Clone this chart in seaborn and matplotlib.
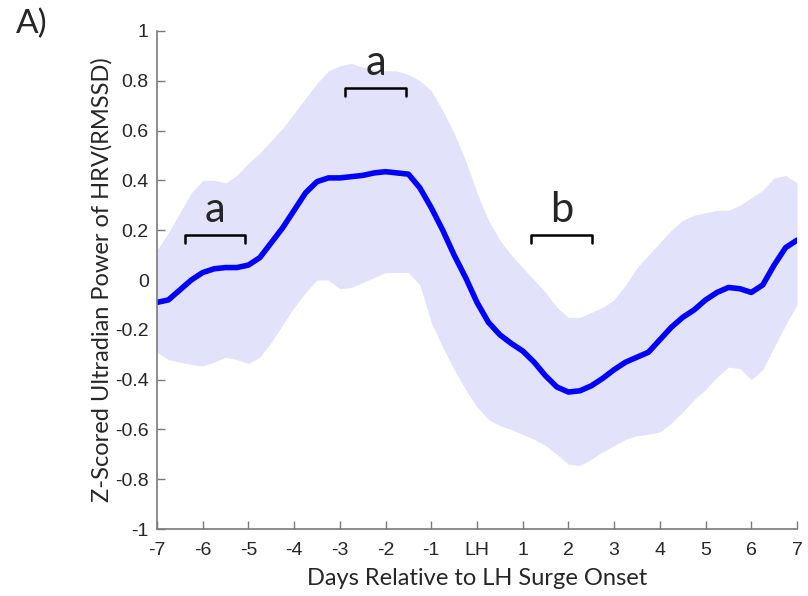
import numpy as np
import pandas as pd
import matplotlib
matplotlib.use("Agg")
import matplotlib.pyplot as plt
import seaborn as sns

# mean curve
mean_days = [-7, -6.75, -6.5, -6.25, -6, -5.75, -5.5, -5.25, -5, -4.75, -4.5, -4.25,
             -4, -3.75, -3.5, -3.25, -3, -2.75, -2.5, -2.25, -2, -1.75, -1.5, -1.25,
             -1, -0.75, -0.5, -0.25, 0, 0.25, 0.5, 0.75, 1, 1.25, 1.5, 1.75,
             2, 2.25, 2.5, 2.75, 3, 3.25, 3.5, 3.75, 4, 4.25, 4.5, 4.75,
             5, 5.25, 5.5, 5.75, 6, 6.25, 6.5, 6.75, 7]
mean_vals = [-0.09, -0.08, -0.04, 0.0, 0.03, 0.045, 0.05, 0.05, 0.06, 0.09, 0.15, 0.21,
             0.28, 0.35, 0.395, 0.41, 0.41, 0.415, 0.42, 0.43, 0.435, 0.43, 0.425, 0.37,
             0.29, 0.20, 0.10, 0.01, -0.09, -0.17, -0.22, -0.255, -0.285, -0.33, -0.385, -0.43,
             -0.45, -0.445, -0.425, -0.395, -0.36, -0.33, -0.31, -0.29, -0.24, -0.19, -0.15, -0.12,
             -0.08, -0.05, -0.03, -0.035, -0.05, -0.02, 0.06, 0.13, 0.16]

# shaded band
band_days = [-7, -6.75, -6.5, -6.25, -6, -5.75, -5.5, -5.25, -5, -4.75, -4.5, -4.25,
             -4, -3.75, -3.5, -3.25, -3, -2.75, -2.5, -2.25, -2, -1.75, -1.5, -1.25,
             -1, -0.75, -0.5, -0.25, 0, 0.25, 0.5, 0.75, 1, 1.25, 1.5, 1.75,
             2, 2.25, 2.5, 2.75, 3, 3.25, 3.5, 3.75, 4, 4.25, 4.5, 4.75,
             5, 5.25, 5.5, 5.75, 6, 6.25, 6.5, 6.75, 7]
band_upper = [0.12, 0.19, 0.27, 0.35, 0.40, 0.40, 0.39, 0.42, 0.47, 0.51, 0.56, 0.61,
              0.67, 0.73, 0.79, 0.84, 0.86, 0.87, 0.855, 0.845, 0.84, 0.84, 0.825, 0.80,
              0.76, 0.68, 0.59, 0.48, 0.35, 0.24, 0.16, 0.10, 0.05, 0.00, -0.05, -0.11,
              -0.15, -0.15, -0.13, -0.11, -0.08, -0.02, 0.05, 0.10, 0.15, 0.20, 0.24, 0.26,
              0.27, 0.28, 0.28, 0.30, 0.33, 0.36, 0.41, 0.42, 0.39]
band_lower = [-0.29, -0.32, -0.33, -0.34, -0.345, -0.33, -0.31, -0.32, -0.335, -0.31, -0.25, -0.18,
              -0.11, -0.05, 0.0, 0.0, -0.035, -0.03, -0.01, 0.01, 0.03, 0.03, 0.03, -0.02,
              -0.17, -0.27, -0.36, -0.44, -0.51, -0.56, -0.585, -0.60, -0.62, -0.64, -0.665, -0.70,
              -0.74, -0.745, -0.72, -0.69, -0.665, -0.64, -0.625, -0.62, -0.61, -0.575, -0.53, -0.48,
              -0.44, -0.39, -0.35, -0.355, -0.40, -0.36, -0.27, -0.18, -0.10]

# significance brackets
bracket_spans = [(-6.39, -5.07), (-2.89, -1.55), (1.18, 2.52)]
bracket_tops = [0.18, 0.77, 0.18]
bracket_labels = ["a", "a", "b"]

xtick_vals = list(range(-7, 8))
xtick_labels = ["-7", "-6", "-5", "-4", "-3", "-2", "-1", "LH", "1", "2", "3", "4", "5", "6", "7"]
ytick_vals = [-1, -0.8, -0.6, -0.4, -0.2, 0, 0.2, 0.4, 0.6, 0.8, 1]
ytick_labels = ["-1", "-0.8", "-0.6", "-0.4", "-0.2", "0", "0.2", "0.4", "0.6", "0.8", "1"]

sns.set_style("white")
axis_grey = "#7a7a7a"

fig = plt.figure(figsize=(8.08, 5.96), dpi=100)
ax = fig.add_axes([0.1943, 0.1124, 0.7921, 0.8356])

ax.fill_between(band_days, band_lower, band_upper, color="#e2e2fa", linewidth=0)
df = pd.DataFrame(dict(Days=mean_days, Power=mean_vals))
sns.lineplot(data=df, x="Days", y="Power", ax=ax, color="#0000ff", linewidth=4,
             solid_joinstyle="round", solid_capstyle="round")

tip = 0.03
for (x0, x1), top, lab in zip(bracket_spans, bracket_tops, bracket_labels):
    ax.plot([x0, x0, x1, x1], [top - tip, top, top, top - tip], color="black", linewidth=1.8)
    ax.text((x0 + x1) / 2, top + 0.025, lab, ha="center", va="bottom",
            fontsize=30, family="Lato")

ax.set_xlim(-7, 7)
ax.set_ylim(-1, 1)
ax.set_xticks(xtick_vals)
ax.set_xticklabels(xtick_labels, family="Liberation Sans", fontsize=14, color="#262626")
ax.set_yticks(ytick_vals)
ax.set_yticklabels(ytick_labels, family="Liberation Sans", fontsize=14, color="#262626")
ax.tick_params(bottom=True, left=True, direction="in", length=5.5, width=1, color=axis_grey)
ax.tick_params(axis="x", pad=9)
ax.tick_params(axis="y", pad=6)

sns.despine(ax=ax)
for s in ["left", "bottom"]:
    ax.spines[s].set_color(axis_grey)
    ax.spines[s].set_linewidth(1.2)

ax.set_xlabel("Days Relative to LH Surge Onset", family="Lato", fontsize=17, labelpad=7)
ax.set_ylabel("Z-Scored Ultradian Power of HRV(RMSSD)", family="Lato", fontsize=17, labelpad=2)

fig.text(0.02, 0.985, "A)", ha="left", va="top", fontsize=24, family="Lato")

fig.savefig("out.png", dpi=100)
